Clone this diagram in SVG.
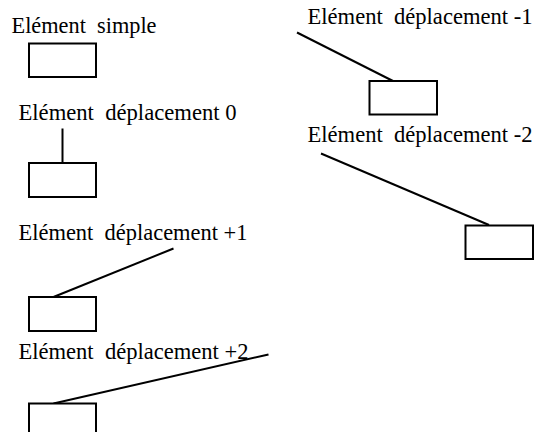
<svg xmlns="http://www.w3.org/2000/svg" width="534" height="432" viewBox="0 0 534 432">
  <style>
    .lbl { font-family: "Liberation Serif", "Times New Roman", serif; font-size: 22.5px; fill: #000; white-space: pre; }
    .box { fill: #fff; stroke: #000; stroke-width: 2; }
    .lead { stroke: #000; stroke-width: 2; fill: none; }
  </style>
  <rect width="534" height="432" fill="#fff"/>

  <!-- leader lines from labels to their boxes -->
  <g id="connectors">
    <line class="lead" x1="297" y1="32.5" x2="393" y2="81"/>
    <line class="lead" x1="321" y1="153.5" x2="489" y2="225"/>
    <line class="lead" x1="62.5" y1="128.5" x2="62.5" y2="163"/>
    <line class="lead" x1="173.5" y1="248.5" x2="53.5" y2="297"/>
    <line class="lead" x1="268.5" y1="354.5" x2="53.5" y2="403.5"/>
  </g>

  <g id="element-simple">
    <text class="lbl" x="11.5" y="33" textLength="145" lengthAdjust="spacingAndGlyphs">Elément  simple</text>
    <rect class="box" x="29" y="43.5" width="67" height="33.5"/>
  </g>

  <g id="element-deplacement-moins-1">
    <text class="lbl" x="307.5" y="24" textLength="225" lengthAdjust="spacingAndGlyphs">Elément  déplacement -1</text>
    <rect class="box" x="369.5" y="81" width="67.5" height="33.5"/>
  </g>

  <g id="element-deplacement-moins-2">
    <text class="lbl" x="307.5" y="142" textLength="225" lengthAdjust="spacingAndGlyphs">Elément  déplacement -2</text>
    <rect class="box" x="465.5" y="225.5" width="67.5" height="33.5"/>
  </g>

  <g id="element-deplacement-0">
    <text class="lbl" x="18.5" y="120" textLength="218" lengthAdjust="spacingAndGlyphs">Elément  déplacement 0</text>
    <rect class="box" x="29" y="163" width="67" height="34"/>
  </g>

  <g id="element-deplacement-plus-1">
    <text class="lbl" x="18.5" y="240" textLength="229" lengthAdjust="spacingAndGlyphs">Elément  déplacement +1</text>
    <rect class="box" x="29" y="297" width="67" height="34"/>
  </g>

  <g id="element-deplacement-plus-2">
    <text class="lbl" x="18.5" y="358.5" textLength="230" lengthAdjust="spacingAndGlyphs">Elément  déplacement +2</text>
    <rect class="box" x="29" y="403.5" width="67" height="34"/>
  </g>
</svg>
